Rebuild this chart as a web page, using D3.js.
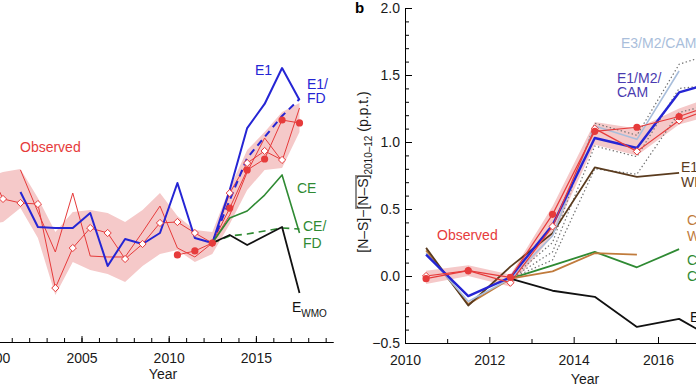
<!DOCTYPE html>
<html>
<head>
<meta charset="utf-8">
<script src="https://cdn.jsdelivr.net/npm/d3@7"></script>
<style>
  body { margin: 0; background: #fff; }
  svg { display: block; font-family: "Liberation Sans", Arial, Helvetica, sans-serif; }
</style>
</head>
<body>
<script>
// ---- panel a data (half-year points) ----
var yearsA = [1999.5, 2000.5, 2001.5, 2002.5, 2003.5, 2004.5, 2005.5, 2006.5, 2007.5, 2008.5,
              2009.5, 2010.5, 2011.5, 2012.5, 2013.5, 2014.5, 2015.5, 2016.5, 2017.5];
var obsDiamA = [0.85, 0.575, 0.545, 0.537, -0.09, 0.209, 0.358, 0.321, 0.127, 0.239,
                0.396, 0.403, 0.321, 0.246, 0.619, 0.843, 0.933, 0.866, null];
var obsLineA = [null, null, 0.791, 0.478, 0.179, 0.619, 0.149, 0.142, 0.142, 0.328,
                0.522, 0.209, 0.142, 0.246, 0.455, 0.776, 1.030, 0.858, 1.254];
var obsDotA  = [null, null, null, null, null, null, null, null, null, null,
                null, 0.157, 0.187, 0.246, 0.507, 0.791, 0.873, 1.164, 1.142];
var bandLoA  = [0.381, 0.403, 0.507, 0.284, -0.142, 0.104, 0.045, 0.015, -0.045, 0.075,
                0.164, 0.194, 0.104, 0.164, 0.388, 0.642, 0.791, 0.806, 1.075];
var bandUpA  = [0.731, 0.776, 0.799, 0.582, 0.328, 0.478, 0.493, 0.470, 0.403, 0.493,
                0.619, 0.448, 0.343, 0.328, 0.657, 0.940, 1.075, 1.224, 1.291];
var e1A      = [null, null, 0.627, 0.366, 0.358, 0.358, 0.470, 0.075, 0.276, 0.239,
                0.321, 0.694, 0.284, 0.246, 0.642, 1.104, 1.284, 1.552, 1.313];
var e1fdA    = [null, null, null, null, null, null, null, null, null, null,
                null, null, null, 0.246, 0.567, 0.881, 1.037, 1.194, 1.321];
var ceA      = [null, null, null, null, null, null, null, null, null, null,
                null, null, null, 0.246, 0.433, 0.485, 0.604, 0.754, 0.321];
var cefdA    = [null, null, null, null, null, null, null, null, null, null,
                null, null, null, 0.246, 0.299, 0.313, 0.336, 0.358, 0.351];
var ewmoA    = [null, null, null, null, null, null, null, null, null, null,
                null, null, null, 0.246, 0.306, 0.231, 0.299, 0.366, -0.127];
var majorA = [2000, 2005, 2010, 2015];
var minorA = [2000, 2001, 2002, 2003, 2004, 2005, 2006, 2007, 2008, 2009,
              2010, 2011, 2012, 2013, 2014, 2015, 2016, 2017, 2018, 2019];

// ---- panel b data ----
var yearsB  = [2010.5, 2011.5, 2012.5, 2013.5, 2014.5, 2015.5, 2016.5, 2017.5];
var obsDotB  = [-0.02, 0.04, -0.01, 0.46, 1.08, 1.11, 1.19, 1.30];
var obsDiamB = [0.00, 0.04, -0.05, 0.37, 1.10, 0.93, 1.16, 1.28];
var bandLoB  = [-0.06, 0.00, -0.08, 0.30, 0.98, 0.90, 1.13, 1.22];
var bandUpB  = [0.04, 0.08, 0.01, 0.52, 1.15, 1.10, 1.25, 1.36];
var e1m2B    = [0.16, -0.15, -0.01, 0.38, 1.03, 0.955, 1.37, 1.46];
var e3m2B    = [0.17, -0.19, -0.02, 0.30, 1.12, 1.02, 1.53, null];
var dotHiB   = [null, null, -0.02, 0.25, 1.14, 1.05, 1.58, 1.68];
var dotMidB  = [null, null, -0.02, 0.18, 0.97, 0.89, 1.40, 1.43];
var dotLoB   = [null, null, -0.02, 0.12, 0.80, 0.76, 1.22, 1.30];
var e1wB     = [0.21, -0.22, 0.07, 0.32, 0.81, 0.74, 0.77, null];
var cewB     = [0.19, -0.21, -0.02, 0.035, 0.17, 0.16, null, null];
var cecB     = [null, null, -0.02, 0.08, 0.18, 0.065, 0.20, null];
var ewmoB    = [null, null, -0.02, -0.11, -0.155, -0.38, -0.32, -0.50];
var majorB = [2010, 2012, 2014, 2016];
var minorB = [2011, 2013, 2015, 2017];
var yTicksB = [-0.5, 0, 0.5, 1.0, 1.5, 2.0];

var RED = "#e63b3b", PINK = "#f5c9c9", BLUE = "#2525d4", GREEN = "#2f8a33",
    DBROWN = "#5a3b1e", OBROWN = "#c07b3c", LBLUE = "#a9bedb";

var svg = d3.select("body").append("svg")
    .attr("width", 696)
    .attr("height", 385);

var y = d3.scaleLinear().domain([-0.5, 2.0]).range([343, 8]);
var xA = d3.scaleLinear().domain([2005, 2015]).range([81.5, 255.9]);
var xB = d3.scaleLinear().domain([2010, 2016]).range([405, 658]);

function pts(years, vals) {
    return years.map(function(t, i) { return [t, vals[i]]; });
}
function lineFor(x) {
    return d3.line()
        .defined(function(d) { return d[1] != null; })
        .x(function(d) { return x(d[0]); })
        .y(function(d) { return y(d[1]); });
}
function areaFor(x) {
    return d3.area()
        .x(function(d) { return x(d[0]); })
        .y0(function(d) { return y(d[1]); })
        .y1(function(d) { return y(d[2]); });
}
var diamond = "M0,-3.6L3.6,0L0,3.6L-3.6,0Z";

function drawLine(g, x, years, vals, color, width, dash) {
    g.append("path")
        .attr("d", lineFor(x)(pts(years, vals)))
        .attr("fill", "none")
        .attr("stroke", color)
        .attr("stroke-width", width)
        .attr("stroke-dasharray", dash || null)
        .attr("stroke-linejoin", "round");
}
function drawDots(g, x, years, vals, r) {
    g.selectAll(null)
        .data(pts(years, vals).filter(function(d) { return d[1] != null; }))
        .enter().append("circle")
        .attr("cx", function(d) { return x(d[0]); })
        .attr("cy", function(d) { return y(d[1]); })
        .attr("r", r)
        .attr("fill", RED);
}
function drawDiamonds(g, x, years, vals) {
    g.selectAll(null)
        .data(pts(years, vals).filter(function(d) { return d[1] != null; }))
        .enter().append("path")
        .attr("d", diamond)
        .attr("transform", function(d) { return "translate(" + x(d[0]) + "," + y(d[1]) + ")"; })
        .attr("fill", "#fff")
        .attr("stroke", RED)
        .attr("stroke-width", 1);
}
function label(txt, x0, y0, color, size) {
    return svg.append("text")
        .attr("x", x0).attr("y", y0)
        .attr("fill", color)
        .attr("font-size", size || 14)
        .text(txt);
}

// ================= panel a =================
var ga = svg.append("g");

ga.append("path")
    .attr("d", areaFor(xA)(yearsA.map(function(t, i) { return [t, bandLoA[i], bandUpA[i]]; })))
    .attr("fill", PINK);

drawLine(ga, xA, yearsA, obsLineA, RED, 1);
drawLine(ga, xA, yearsA, obsDiamA, RED, 1);
drawLine(ga, xA, yearsA, obsDotA, RED, 1);
drawLine(ga, xA, yearsA, e1A, BLUE, 2);
drawLine(ga, xA, yearsA, e1fdA, BLUE, 2, "7,5");
drawLine(ga, xA, yearsA, ceA, GREEN, 1.6);
drawLine(ga, xA, yearsA, cefdA, GREEN, 1.6, "7,5");
drawLine(ga, xA, yearsA, ewmoA, "#111", 1.8);
drawDiamonds(ga, xA, yearsA, obsDiamA);
drawDots(ga, xA, yearsA, obsDotA, 3.6);

var xAx = xA.copy().domain([xA.invert(-10), xA.invert(333)]).range([-10, 333]);
var axA = svg.append("g").attr("transform", "translate(0,342)");
axA.call(d3.axisBottom(xAx).tickValues(minorA).tickSizeInner(-4).tickSizeOuter(0).tickFormat(""));
axA.append("g").call(d3.axisBottom(xAx).tickValues(majorA).tickSizeInner(-6).tickSizeOuter(0)
    .tickPadding(11).tickFormat(d3.format("d")));
axA.selectAll("text").attr("font-size", 14).attr("font-family", null).attr("fill", "#1a1a1a");
axA.selectAll("g").attr("font-family", null);

label("Year", 163, 379, "#1a1a1a").attr("text-anchor", "middle");
label("Observed", 20, 152, RED);
label("E1", 255, 75, BLUE);
label("E1/", 307, 89, BLUE);
label("FD", 307, 103, BLUE);
label("CE", 297, 193, GREEN);
label("CE/", 303, 231, GREEN);
label("FD", 303, 248, GREEN);
var ew = label("E", 292, 312, "#111");
ew.append("tspan").attr("dy", 5).attr("font-size", 10).text("WMO");

// ================= panel b =================
var gb = svg.append("g");

gb.append("path")
    .attr("d", areaFor(xB)(yearsB.map(function(t, i) { return [t, bandLoB[i], bandUpB[i]]; })))
    .attr("fill", PINK);

drawLine(gb, xB, yearsB, dotHiB, "#6f6f6f", 1.2, "1.4,2.4");
drawLine(gb, xB, yearsB, dotMidB, "#6f6f6f", 1.2, "1.4,2.4");
drawLine(gb, xB, yearsB, dotLoB, "#6f6f6f", 1.2, "1.4,2.4");
drawLine(gb, xB, yearsB, ewmoB, "#111", 1.8);
drawLine(gb, xB, yearsB, cecB, GREEN, 1.8);
drawLine(gb, xB, yearsB, cewB, OBROWN, 1.8);
drawLine(gb, xB, yearsB, e1wB, DBROWN, 1.8);
drawLine(gb, xB, yearsB, e3m2B, LBLUE, 1.6);
drawLine(gb, xB, yearsB, e1m2B, BLUE, 2.4);
drawLine(gb, xB, yearsB, obsDiamB, RED, 1.2);
drawLine(gb, xB, yearsB, obsDotB, RED, 1.2);
drawDiamonds(gb, xB, yearsB, obsDiamB);
drawDots(gb, xB, yearsB, obsDotB, 3.6);

var xBx = xB.copy().domain([2010, xB.invert(700)]).range([405, 700]);
var axB = svg.append("g").attr("transform", "translate(0," + y(-0.5) + ")");
axB.call(d3.axisBottom(xBx).tickValues(minorB).tickSizeInner(-4).tickSizeOuter(0).tickFormat(""));
axB.append("g").call(d3.axisBottom(xBx).tickValues(majorB).tickSizeInner(-6).tickSizeOuter(0)
    .tickPadding(12).tickFormat(d3.format("d")));

var ayB = svg.append("g").attr("transform", "translate(405,0)");
ayB.call(d3.axisLeft(y).tickValues(d3.range(-5, 21).map(function(d) { return d / 10; }))
    .tickSizeInner(-4).tickSizeOuter(0).tickFormat(""));
ayB.append("g").call(d3.axisLeft(y).tickValues(yTicksB).tickSizeInner(-7).tickSizeOuter(0)
    .tickPadding(5).tickFormat(d3.format(".1f")));

[axB, ayB].forEach(function(a) {
    a.selectAll("text").attr("font-size", 14).attr("font-family", null).attr("fill", "#1a1a1a");
    a.selectAll("g").attr("font-family", null);
});

label("Year", 585, 384, "#1a1a1a").attr("text-anchor", "middle");
label("b", 355, 13, "#000", 15).attr("font-weight", "bold");
label("Observed", 437, 240, RED);
label("E3/M2/CAM", 621, 48, LBLUE);
label("E1/M2/", 617, 83, "#4a3bb0");
label("CAM", 617, 97, "#4a3bb0");
label("E1/", 681, 172, DBROWN);
label("WMO", 681, 187, DBROWN);
label("CE/", 687, 225, OBROWN);
label("WMO", 687, 241, OBROWN);
label("CE/", 687, 265, GREEN);
label("CE", 687, 281, GREEN);
var ewb = label("E", 690, 322, "#111");
ewb.append("tspan").attr("dy", 5).attr("font-size", 10).text("WMO");

// rotated y label with overline on the second [N–S]
var yl = svg.append("g").attr("transform", "translate(368,172) rotate(-90)");
var ylt = yl.append("text")
    .attr("text-anchor", "middle")
    .attr("font-size", 14)
    .attr("fill", "#1a1a1a");
ylt.append("tspan").text("[N–S]−");
ylt.append("tspan").text("[N–S]");
ylt.append("tspan").attr("dy", 4).attr("font-size", 10).text("2010–12");
ylt.append("tspan").attr("dy", -4).text(" (p.p.t.)");
var e0 = ylt.node().getExtentOfChar(6), e1 = ylt.node().getExtentOfChar(10);
yl.append("line")
    .attr("x1", e0.x + 0.5).attr("x2", e1.x + e1.width - 0.5)
    .attr("y1", e0.y + 1).attr("y2", e0.y + 1)
    .attr("stroke", "#1a1a1a").attr("stroke-width", 1);
</script>
</body>
</html>
